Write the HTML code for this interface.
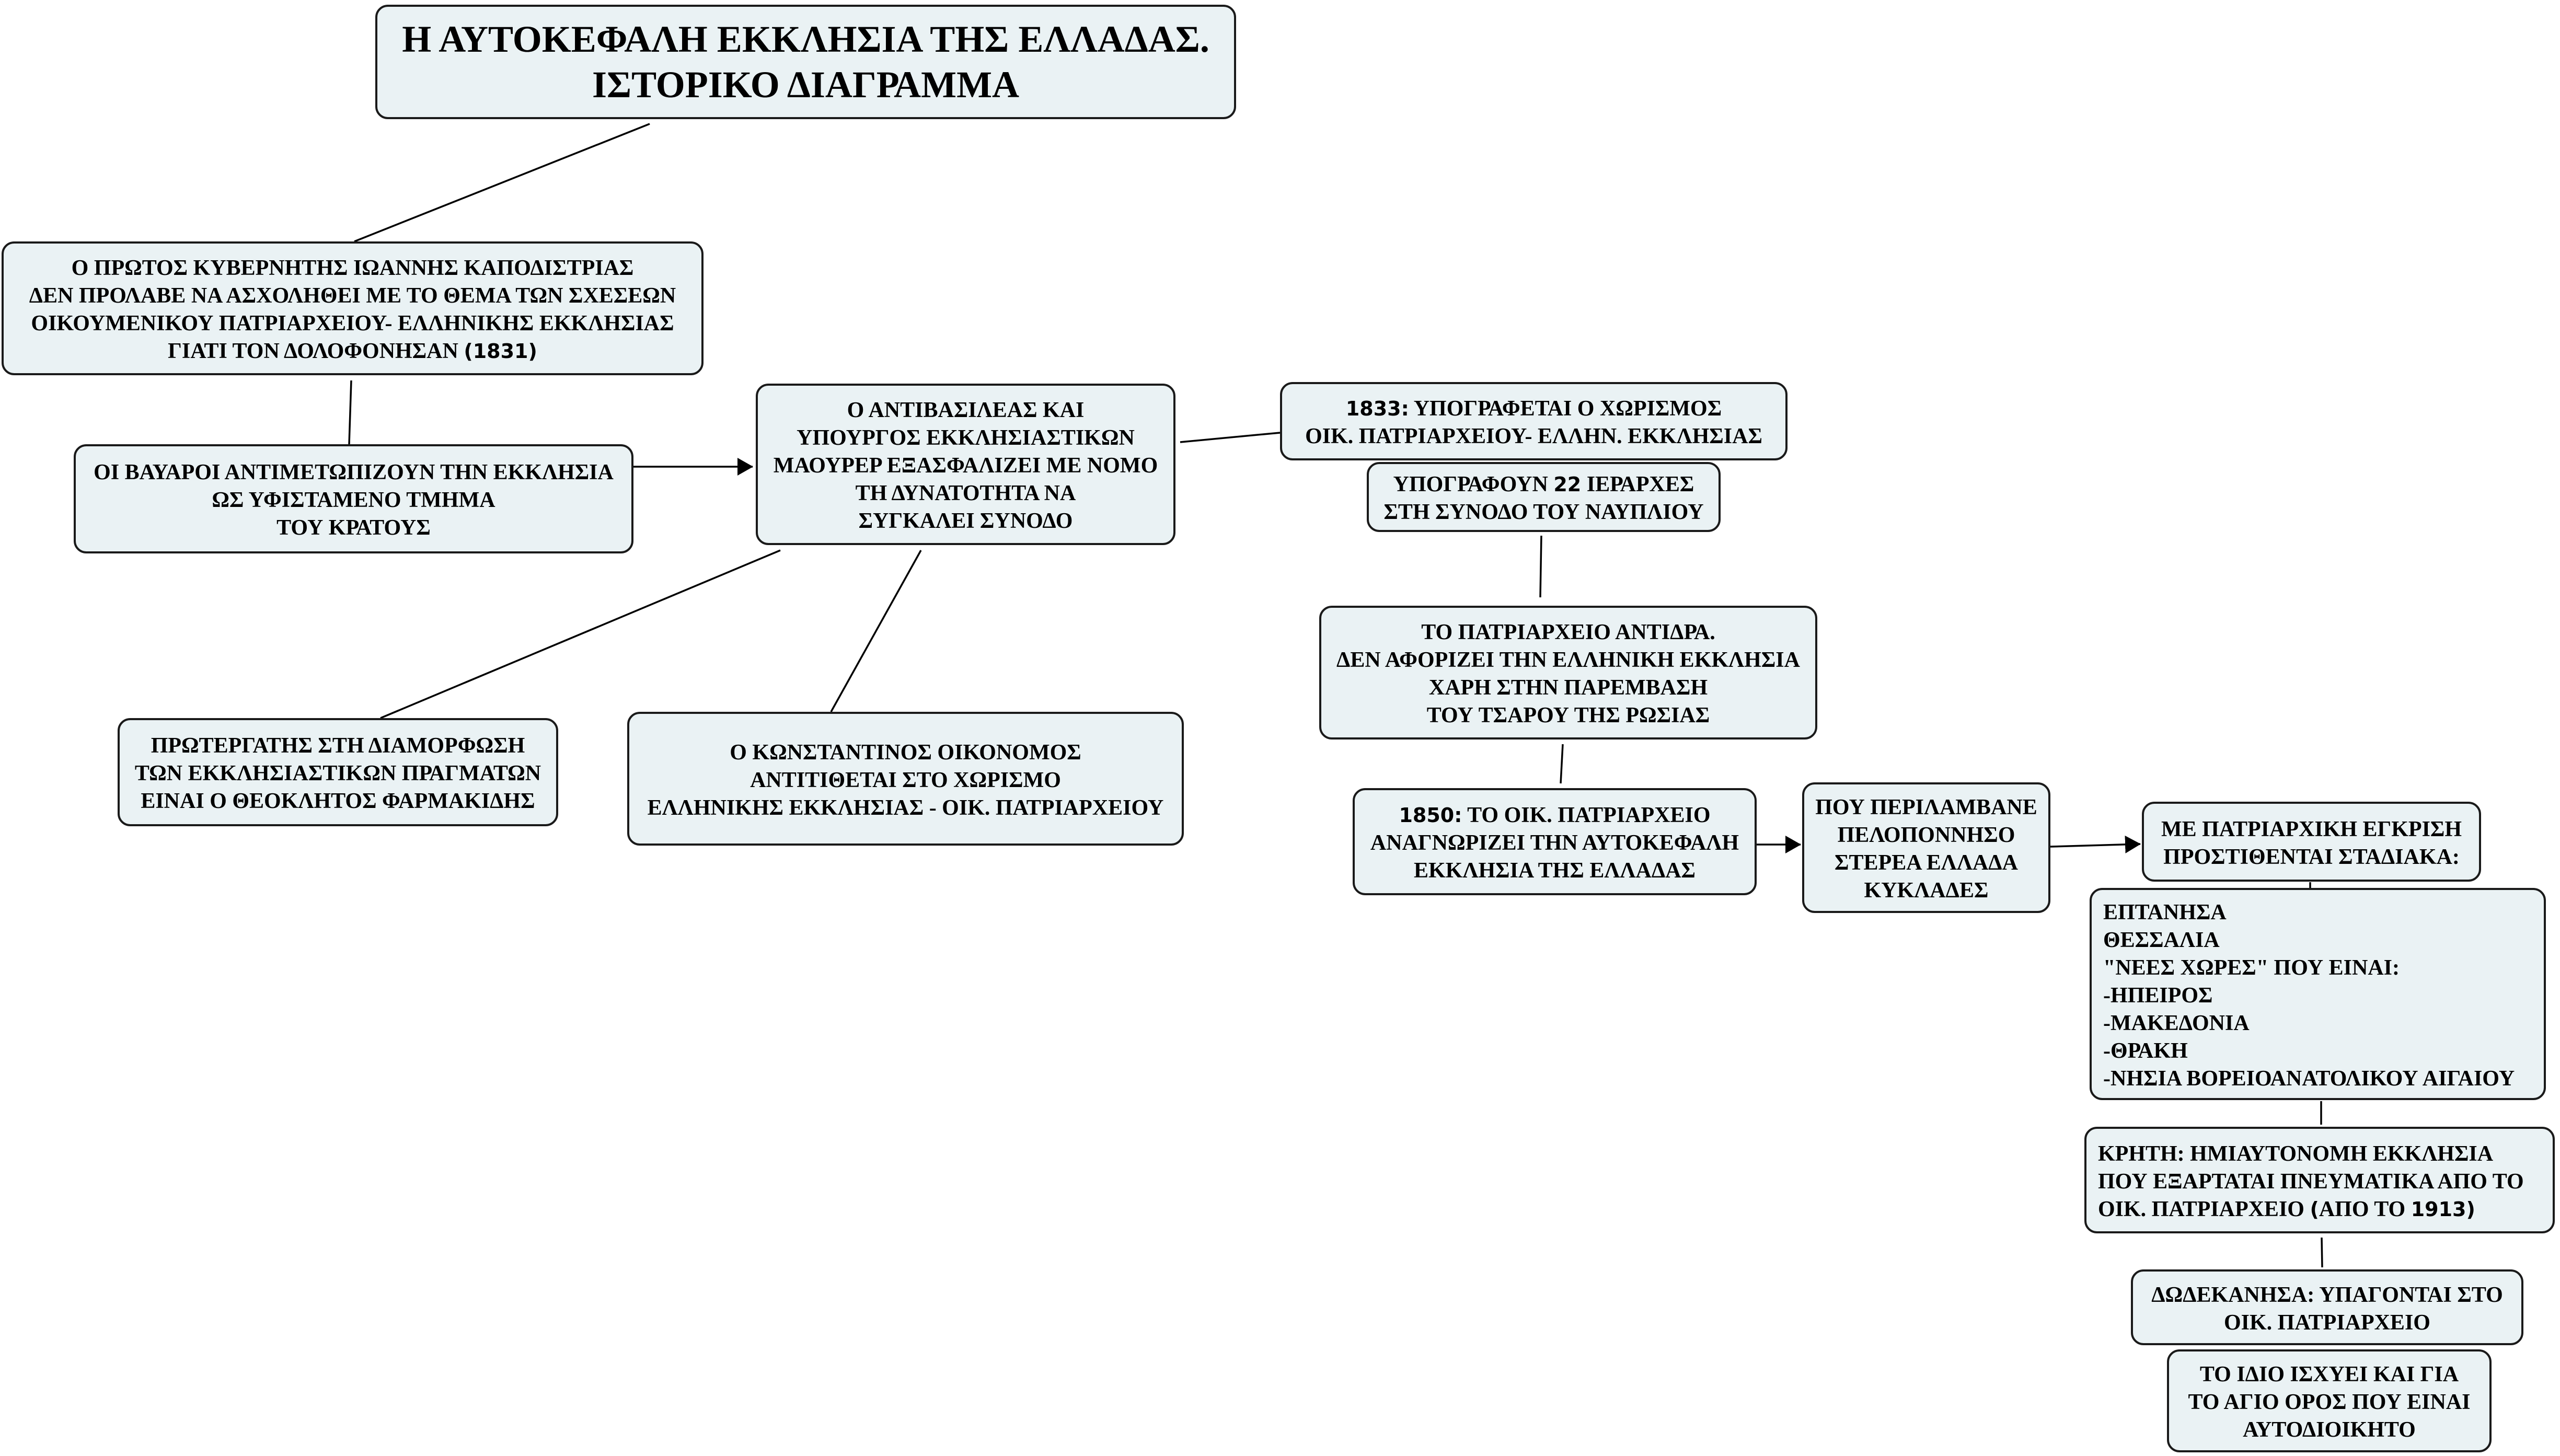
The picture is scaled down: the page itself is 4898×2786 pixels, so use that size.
<!DOCTYPE html>
<html><head><meta charset="utf-8"><style>
html,body{margin:0;padding:0;background:#fff;}
body{width:4898px;height:2786px;position:relative;overflow:hidden;font-family:"Liberation Serif","DejaVu Serif",serif;font-weight:bold;color:#000;}
.b{position:absolute;box-sizing:border-box;background:#eaf2f4;border:4px solid #1a1a1a;border-radius:24px;display:flex;align-items:center;justify-content:center;text-align:center;font-size:42px;line-height:53px;white-space:nowrap;padding-top:6px;}
.l{justify-content:flex-start;text-align:left;padding-left:22px;}
.n{font-family:"DejaVu Sans","Liberation Sans",sans-serif;font-weight:bold;font-size:38px;}
svg{position:absolute;left:0;top:0;}
</style></head><body>
<svg width="4898" height="2786">
<defs>
<marker id="A" markerWidth="30" markerHeight="34" refX="29" refY="17" orient="auto" markerUnits="userSpaceOnUse"><path d="M0,0 L30,17 L0,34z" fill="#000"/></marker></defs>
<g stroke="#000" stroke-width="3.5" fill="none">
<line x1="1243" y1="237" x2="678" y2="462"/>
<line x1="672" y1="728" x2="668" y2="850"/>
<line x1="1212" y1="893" x2="1440" y2="893" marker-end="url(#A)"/>
<line x1="2258" y1="846" x2="2449" y2="828"/>
<line x1="1493" y1="1053" x2="728" y2="1374"/>
<line x1="1762" y1="1053" x2="1590" y2="1362"/>
<line x1="2949" y1="1025" x2="2947" y2="1143"/>
<line x1="2990" y1="1424" x2="2986" y2="1499"/>
<line x1="3361" y1="1616" x2="3445" y2="1616" marker-end="url(#A)"/>
<line x1="3923" y1="1620" x2="4095" y2="1615" marker-end="url(#A)"/>
<line x1="4441" y1="2107" x2="4441" y2="2152"/>
<line x1="4442" y1="2368" x2="4443" y2="2425"/>
<line x1="4420" y1="1688" x2="4420" y2="1699"/>
</g></svg>

<div class="b" style="left:718px;top:9px;width:1647px;height:219px;font-size:72px;line-height:87px;padding-top:0;"><span>Η ΑΥΤΟΚΕΦΑΛΗ ΕΚΚΛΗΣΙΑ ΤΗΣ ΕΛΛΑΔΑΣ.<br>ΙΣΤΟΡΙΚΟ ΔΙΑΓΡΑΜΜΑ</span></div>

<div class="b" style="left:3px;top:462px;width:1343px;height:256px;"><span>Ο ΠΡΩΤΟΣ ΚΥΒΕΡΝΗΤΗΣ ΙΩΑΝΝΗΣ ΚΑΠΟΔΙΣΤΡΙΑΣ<br>ΔΕΝ ΠΡΟΛΑΒΕ ΝΑ ΑΣΧΟΛΗΘΕΙ ΜΕ ΤΟ ΘΕΜΑ ΤΩΝ ΣΧΕΣΕΩΝ<br>ΟΙΚΟΥΜΕΝΙΚΟΥ ΠΑΤΡΙΑΡΧΕΙΟΥ- ΕΛΛΗΝΙΚΗΣ ΕΚΚΛΗΣΙΑΣ<br>ΓΙΑΤΙ ΤΟΝ ΔΟΛΟΦΟΝΗΣΑΝ <span class="n">(1831)</span></span></div>

<div class="b" style="left:141px;top:850px;width:1071px;height:209px;"><span>ΟΙ ΒΑΥΑΡΟΙ ΑΝΤΙΜΕΤΩΠΙΖΟΥΝ ΤΗΝ ΕΚΚΛΗΣΙΑ<br>ΩΣ ΥΦΙΣΤΑΜΕΝΟ ΤΜΗΜΑ<br>ΤΟΥ ΚΡΑΤΟΥΣ</span></div>

<div class="b" style="left:1446px;top:734px;width:803px;height:309px;"><span>Ο ΑΝΤΙΒΑΣΙΛΕΑΣ ΚΑΙ<br>ΥΠΟΥΡΓΟΣ ΕΚΚΛΗΣΙΑΣΤΙΚΩΝ<br>ΜΑΟΥΡΕΡ ΕΞΑΣΦΑΛΙΖΕΙ ΜΕ ΝΟΜΟ<br>ΤΗ ΔΥΝΑΤΟΤΗΤΑ ΝΑ<br>ΣΥΓΚΑΛΕΙ ΣΥΝΟΔΟ</span></div>

<div class="b" style="left:2449px;top:731px;width:971px;height:150px;"><span><span class="n">1833:</span> ΥΠΟΓΡΑΦΕΤΑΙ Ο ΧΩΡΙΣΜΟΣ<br>ΟΙΚ. ΠΑΤΡΙΑΡΧΕΙΟΥ- ΕΛΛΗΝ. ΕΚΚΛΗΣΙΑΣ</span></div>

<div class="b" style="left:2615px;top:884px;width:677px;height:134px;"><span>ΥΠΟΓΡΑΦΟΥΝ <span class="n">22</span> ΙΕΡΑΡΧΕΣ<br>ΣΤΗ ΣΥΝΟΔΟ ΤΟΥ ΝΑΥΠΛΙΟΥ</span></div>

<div class="b" style="left:2524px;top:1159px;width:953px;height:256px;"><span>ΤΟ ΠΑΤΡΙΑΡΧΕΙΟ ΑΝΤΙΔΡΑ.<br>ΔΕΝ ΑΦΟΡΙΖΕΙ ΤΗΝ ΕΛΛΗΝΙΚΗ ΕΚΚΛΗΣΙΑ<br>ΧΑΡΗ ΣΤΗΝ ΠΑΡΕΜΒΑΣΗ<br>ΤΟΥ ΤΣΑΡΟΥ ΤΗΣ ΡΩΣΙΑΣ</span></div>

<div class="b" style="left:225px;top:1374px;width:843px;height:207px;"><span>ΠΡΩΤΕΡΓΑΤΗΣ ΣΤΗ ΔΙΑΜΟΡΦΩΣΗ<br>ΤΩΝ ΕΚΚΛΗΣΙΑΣΤΙΚΩΝ ΠΡΑΓΜΑΤΩΝ<br>ΕΙΝΑΙ Ο ΘΕΟΚΛΗΤΟΣ ΦΑΡΜΑΚΙΔΗΣ</span></div>

<div class="b" style="left:1200px;top:1362px;width:1065px;height:256px;"><span>Ο ΚΩΝΣΤΑΝΤΙΝΟΣ ΟΙΚΟΝΟΜΟΣ<br>ΑΝΤΙΤΙΘΕΤΑΙ ΣΤΟ ΧΩΡΙΣΜΟ<br>ΕΛΛΗΝΙΚΗΣ ΕΚΚΛΗΣΙΑΣ - ΟΙΚ. ΠΑΤΡΙΑΡΧΕΙΟΥ</span></div>

<div class="b" style="left:2588px;top:1508px;width:773px;height:205px;"><span><span class="n">1850:</span> ΤΟ ΟΙΚ. ΠΑΤΡΙΑΡΧΕΙΟ<br>ΑΝΑΓΝΩΡΙΖΕΙ ΤΗΝ ΑΥΤΟΚΕΦΑΛΗ<br>ΕΚΚΛΗΣΙΑ ΤΗΣ ΕΛΛΑΔΑΣ</span></div>

<div class="b" style="left:3448px;top:1497px;width:475px;height:250px;"><span>ΠΟΥ ΠΕΡΙΛΑΜΒΑΝΕ<br>ΠΕΛΟΠΟΝΝΗΣΟ<br>ΣΤΕΡΕΑ ΕΛΛΑΔΑ<br>ΚΥΚΛΑΔΕΣ</span></div>

<div class="b" style="left:4098px;top:1534px;width:649px;height:153px;"><span>ΜΕ ΠΑΤΡΙΑΡΧΙΚΗ ΕΓΚΡΙΣΗ<br>ΠΡΟΣΤΙΘΕΝΤΑΙ ΣΤΑΔΙΑΚΑ:</span></div>

<div class="b l" style="left:3998px;top:1699px;width:873px;height:406px;"><span>ΕΠΤΑΝΗΣΑ<br>ΘΕΣΣΑΛΙΑ<br>"ΝΕΕΣ ΧΩΡΕΣ" ΠΟΥ ΕΙΝΑΙ:<br>-ΗΠΕΙΡΟΣ<br>-ΜΑΚΕΔΟΝΙΑ<br>-ΘΡΑΚΗ<br>-ΝΗΣΙΑ ΒΟΡΕΙΟΑΝΑΤΟΛΙΚΟΥ ΑΙΓΑΙΟΥ</span></div>

<div class="b l" style="left:3988px;top:2156px;width:900px;height:204px;"><span>ΚΡΗΤΗ: ΗΜΙΑΥΤΟΝΟΜΗ ΕΚΚΛΗΣΙΑ<br>ΠΟΥ ΕΞΑΡΤΑΤΑΙ ΠΝΕΥΜΑΤΙΚΑ ΑΠΟ ΤΟ<br>ΟΙΚ. ΠΑΤΡΙΑΡΧΕΙΟ <span class="n">(</span>ΑΠΟ ΤΟ <span class="n">1913)</span></span></div>

<div class="b" style="left:4077px;top:2429px;width:751px;height:145px;"><span>ΔΩΔΕΚΑΝΗΣΑ: ΥΠΑΓΟΝΤΑΙ ΣΤΟ<br>ΟΙΚ. ΠΑΤΡΙΑΡΧΕΙΟ</span></div>

<div class="b" style="left:4146px;top:2582px;width:621px;height:197px;"><span>ΤΟ ΙΔΙΟ ΙΣΧΥΕΙ ΚΑΙ ΓΙΑ<br>ΤΟ ΑΓΙΟ ΟΡΟΣ ΠΟΥ ΕΙΝΑΙ<br>ΑΥΤΟΔΙΟΙΚΗΤΟ</span></div>
</body></html>
